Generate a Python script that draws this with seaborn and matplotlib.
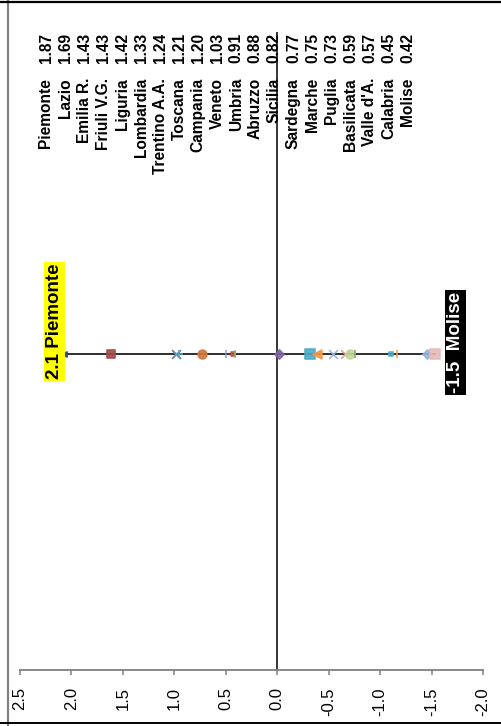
import matplotlib
matplotlib.use("Agg")
import matplotlib.pyplot as plt
from matplotlib.lines import Line2D
import seaborn as sns
import pandas as pd

# Regional index values and their standardised scores (z)
regions = ["Piemonte", "Lazio", "Emilia R.", "Friuli V.G.", "Liguria", "Lombardia",
           "Trentino A.A.", "Toscana", "Campania", "Veneto", "Umbria", "Abruzzo",
           "Sicilia", "Sardegna", "Marche", "Puglia", "Basilicata", "Valle d'A.",
           "Calabria", "Molise"]
index_values = [1.87, 1.69, 1.43, 1.43, 1.42, 1.33, 1.24, 1.21, 1.20, 1.03,
                0.91, 0.88, 0.82, 0.77, 0.75, 0.73, 0.59, 0.57, 0.45, 0.42]
z_scores = [2.07, 1.62, 0.98, 0.98, 0.95, 0.73, 0.50, 0.43, 0.41, -0.02,
            -0.32, -0.39, -0.54, -0.66, -0.71, -0.76, -1.11, -1.16, -1.46, -1.53]
tick_values = [2.5, 2.0, 1.5, 1.0, 0.5, 0.0, -0.5, -1.0, -1.5, -2.0]
tick_labels = ["2.5", "2.0", "1.5", "1.0", "0.5", "0.0", "-0.5", "-1.0", "-1.5", "-2.0"]

# Marker style for each region (marker, colour, size)
marker_styles = [
    ("<", "#2c4d75", 14), ("s", "#a04848", 40), ("x", "#4f7a80", 40), ("x", "#6f8fbf", 30),
    ("+", "#4bacc6", 30), ("o", "#d0783a", 40), ("|", "#7f9fcf", 30), ("s", "#c0504d", 10),
    ("|", "#9bbb59", 40), ("D", "#8064a2", 22), ("s", "#4bacc6", 46), ("<", "#f79646", 40),
    ("x", "#95b3d7", 40), ("x", "#d99694", 40), ("o", "#c3d69b", 40), ("|", "#8ca060", 30),
    ("s", "#4bacc6", 10), ("|", "#f79646", 40), ("D", "#95b3d7", 22), ("s", "#e6b9b8", 50),
]

W, H = 501, 726
sns.set_theme(style="white")
plt.rcParams["font.family"] = ["Liberation Sans", "DejaVu Sans"]
plt.rcParams["axes.unicode_minus"] = False

fig = plt.figure(figsize=(W / 100, H / 100), dpi=100)
fig.patch.set_facecolor("white")

ax_top, ax_bottom, ax_left, ax_right = 32, 670, 20, 483
ax = fig.add_axes([ax_left / W, 1 - ax_bottom / H,
                   (ax_right - ax_left) / W, (ax_bottom - ax_top) / H])
ax.set_facecolor("white")
ax.set_xlim(2.5, -2.0)
ax.set_ylim(0, 1)
y_line = 1 - (354 - ax_top) / (ax_bottom - ax_top)

df = pd.DataFrame({"region": regions, "score": z_scores, "y": [y_line] * len(regions)})

# Zero reference line
ax.axvline(0, color="black", lw=1.1, zorder=1)

# Connecting line through all regional scores
sns.lineplot(data=df, x="score", y="y", estimator=None, sort=True,
             color="#1e1e1e", lw=1.3, ax=ax, zorder=2, legend=False)

# One marker per region
for (name, z), (m, c, s) in zip(zip(regions, z_scores), marker_styles):
    sns.scatterplot(x=[z], y=[y_line], marker=m, color=c, s=s, edgecolor=None,
                    linewidth=1.2, alpha=0.9, ax=ax, zorder=3, legend=False)

# Axis styling
for side in ["top", "right", "left"]:
    ax.spines[side].set_visible(False)
ax.spines["bottom"].set_color("#808080")
ax.spines["bottom"].set_linewidth(1.3)
ax.set_yticks([])
ax.set_xticks(tick_values)
ax.set_xticklabels(tick_labels)
ax.tick_params(axis="x", direction="out", length=3.5, width=1.1, color="#808080",
               pad=9, labelsize=12, labelrotation=90, labelcolor="black", bottom=True)
ax.set_xlabel("")
ax.set_ylabel("")

# Highest and lowest labels
hi, lo = 0, len(regions) - 1
ax.annotate(f"{z_scores[hi]:.1f} {regions[hi]}", xy=(z_scores[hi], y_line),
            xytext=(-1, -25), textcoords="offset pixels", rotation=90,
            rotation_mode="anchor", ha="left", va="bottom", fontsize=13.5,
            fontweight="bold", color="black", zorder=5,
            bbox=dict(boxstyle="square,pad=0.1", fc="#ffff00", ec="none"))
ax.annotate(f"{z_scores[lo]:.1f}  {regions[lo]}", xy=(z_scores[lo], y_line),
            xytext=(12, -39), textcoords="offset pixels", rotation=90,
            rotation_mode="anchor", ha="left", va="top", fontsize=13.5,
            fontweight="bold", color="white", zorder=5,
            bbox=dict(boxstyle="square,pad=0.1", fc="black", ec="none"))

# Region list with index values
for i, (name, v) in enumerate(zip(regions, index_values)):
    xp = (46 + 19.03 * i) / W
    fig.text(xp, 1 - 78 / H, name, rotation=90, rotation_mode="anchor",
             ha="right", va="center", fontsize=11.2, fontweight="bold", color="black")
    fig.text(xp, 1 - 33 / H, f"{v:.2f}", rotation=90, rotation_mode="anchor",
             ha="right", va="center", fontsize=11.2, fontweight="bold", color="black")

# Chart frame
fig.add_artist(Line2D([7.5 / W, 7.5 / W], [0, 1], color="#808080", lw=1.6,
                      transform=fig.transFigure))
fig.add_artist(Line2D([0, 1], [1 - 1.5 / H, 1 - 1.5 / H], color="black", lw=1.6,
                      transform=fig.transFigure))
fig.add_artist(Line2D([0, 1], [1 - 723 / H, 1 - 723 / H], color="black", lw=1.4,
                      transform=fig.transFigure))

fig.savefig("out.png", dpi=100, facecolor="white")
